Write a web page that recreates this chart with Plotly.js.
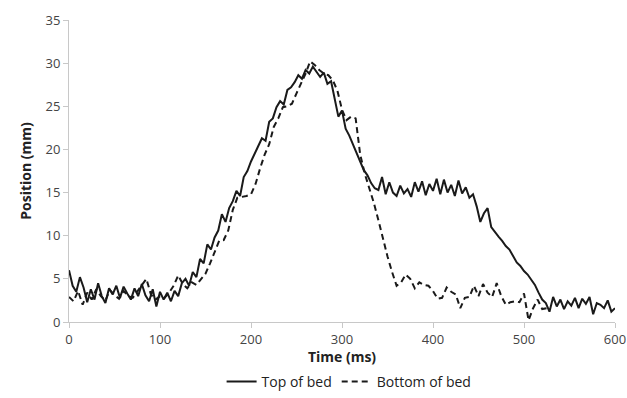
<!DOCTYPE html>
<html>
<head>
<meta charset="utf-8">
<script src="https://cdn.plot.ly/plotly-3.0.1.min.js"></script>
<style>html,body{margin:0;padding:0;background:#fff;}#chart{width:627px;height:398px;}</style>
</head>
<body>
<div id="chart"></div>
<script>
// Top of bed: sampled every 4 ms from 0 to 600 ms
const topStepMs = 4;
const topOfBed = [
  6.0, 4.2, 3.5, 5.2, 4.0, 2.3, 3.8, 2.6, 4.5, 3.0, 2.2, 3.9, 3.2, 4.2, 2.8, 4.1, 3.3, 2.6, 3.9, 3.0, 4.4, 3.1, 2.4, 3.8, 1.8, 3.5,
  2.6, 3.4, 2.4, 3.6, 3.0, 4.5, 5.0, 4.2, 5.8, 5.2, 7.3, 6.8,
  9.0, 8.4, 9.8, 10.6, 12.5, 11.6, 13.2, 14.0, 15.2, 14.6, 16.8, 17.5, 18.6,
  19.6, 20.4, 21.3, 21.0, 23.2, 23.6, 24.9, 25.6, 25.2, 26.9, 27.2, 27.8, 28.6, 28.2, 29.2, 28.8,
  29.6, 29.0, 28.4, 28.9, 27.6, 27.9, 26.0, 23.8, 24.5, 22.4, 21.6, 20.6, 19.4, 18.4, 17.6, 17.0, 16.1, 15.5, 15.3,
  16.8, 14.8, 16.2, 15.0, 14.6, 15.8, 14.9, 15.4, 14.5, 16.2, 15.1, 16.3, 14.7, 16.0, 15.2, 16.6, 14.8, 16.5, 15.0, 15.9, 14.6, 16.4, 14.9, 15.6, 14.4, 14.8, 13.4,
  11.6, 12.6, 13.2, 11.0, 10.4, 9.9, 9.4, 8.8, 8.4, 7.6, 6.9, 6.5, 5.9, 5.5, 4.9, 4.3, 3.4, 2.6, 2.2, 1.2, 2.9, 1.8, 2.6, 1.5, 2.4, 1.9, 2.8, 1.6, 2.7, 2.1, 2.9, 0.9, 2.2, 2.0, 1.6, 2.5, 1.2, 1.6
];
const topTime = topOfBed.map((_, i) => i * topStepMs);

// Bottom of bed: sampled every 5 ms from 0 to 525 ms
const bottomStepMs = 5;
const bottomOfBed = [
  2.9, 2.4, 3.6, 2.0, 3.4, 2.6, 3.8, 3.0, 2.5, 3.7, 3.1, 2.7, 3.6, 3.0, 2.8, 3.5, 4.3, 5.0, 3.2, 2.6, 3.0,
  2.8, 3.4, 4.2, 5.4, 4.4, 3.9, 4.6, 4.3, 5.0, 5.6,
  6.8, 8.2, 9.4, 9.5, 10.6, 13.0, 14.4, 14.5, 14.6, 14.8, 16.0, 17.8, 19.4, 20.6, 22.6, 23.6,
  24.9, 25.0, 25.3, 26.5, 27.6, 28.8, 30.2, 29.8, 29.2, 28.8, 28.6, 28.0, 26.8, 24.6,
  23.4, 23.8, 23.6, 19.4, 17.2, 15.6, 13.8, 11.8, 9.6, 7.6, 5.8, 4.2,
  4.6, 5.5, 5.0, 3.9, 4.6, 4.3, 4.2, 3.6, 2.7, 2.8, 4.0, 3.5, 3.2, 1.6, 2.8, 2.9, 4.2, 3.0, 4.4, 3.4, 2.9, 4.5,
  3.0, 2.0, 2.3, 2.4, 2.3, 3.3, 0.2, 1.6, 2.6, 1.5, 1.6
];
const bottomTime = bottomOfBed.map((_, i) => i * bottomStepMs);

const seriesNames = ["Top of bed", "Bottom of bed"];
const xTicks = [0, 100, 200, 300, 400, 500, 600];
const yTicks = [0, 5, 10, 15, 20, 25, 30, 35];

const fontFam = "Open Sans, Noto Sans, sans-serif";
const traces = [
  {x: topTime, y: topOfBed, name: seriesNames[0], type: "scatter", mode: "lines",
   line: {color: "#1a1a1a", width: 2, dash: "solid"}},
  {x: bottomTime, y: bottomOfBed, name: seriesNames[1], type: "scatter", mode: "lines",
   line: {color: "#1a1a1a", width: 2, dash: "6px,4px"}}
];
const layout = {
  width: 627, height: 398,
  margin: {l: 69, r: 12, t: 20, b: 76},
  paper_bgcolor: "#fff", plot_bgcolor: "#fff",
  showlegend: true,
  legend: {orientation: "h", xref: "paper", x: 0.513, xanchor: "center",
           yref: "container", y: 0.0, yanchor: "bottom",
           font: {family: fontFam, size: 14, color: "#222"}, tracegroupgap: 0},
  xaxis: {range: [0, 600], tickvals: xTicks, showgrid: false, zeroline: false, automargin: false,
          showline: true, linecolor: "#c8c8c8", linewidth: 1,
          ticks: "outside", ticklen: 5, tickcolor: "#c8c8c8",
          tickfont: {family: fontFam, size: 13, color: "#444"},
          title: {text: "<b>Time (ms)</b>", font: {family: fontFam, size: 14, color: "#222"}}},
  yaxis: {range: [0, 35], tickvals: yTicks, showgrid: false, zeroline: false, automargin: false,
          showline: true, linecolor: "#c8c8c8", linewidth: 1,
          ticks: "outside", ticklen: 5, tickcolor: "#c8c8c8",
          tickfont: {family: fontFam, size: 13, color: "#444"},
          title: {text: "<b>Position (mm)</b>", font: {family: fontFam, size: 14, color: "#222"}}}
};
Plotly.newPlot("chart", traces, layout, {displayModeBar: false, staticPlot: true});
</script>
</body>
</html>
